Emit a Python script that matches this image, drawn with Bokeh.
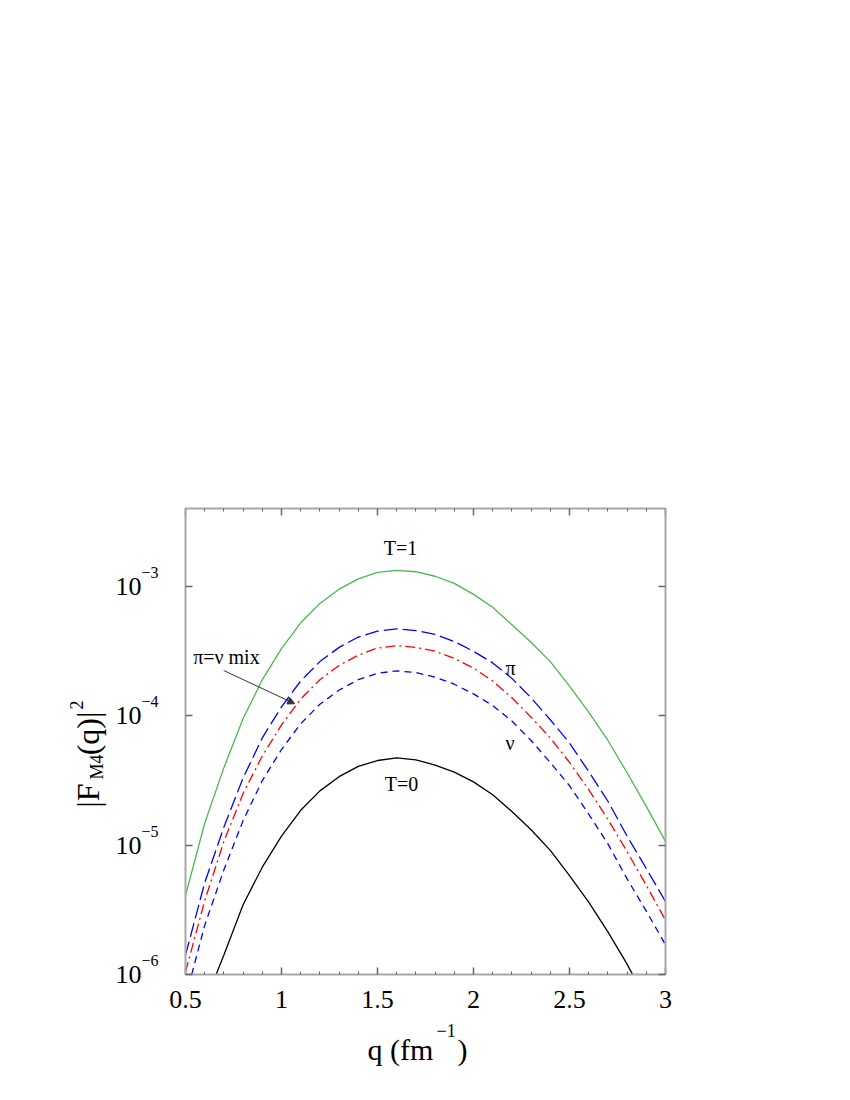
import math
from bokeh.plotting import figure
from bokeh.models import (LinearAxis, LogAxis, SingleIntervalTicker, FixedTicker,
                          CustomJSTickFormatter, Label, Arrow, NormalHead, ColumnDataSource)
from bokeh.core.properties import value
from bokeh.embed import file_html
from bokeh.resources import INLINE

# ---------------- data ----------------
q = [0.5, 0.6, 0.7, 0.8, 0.9, 1.0, 1.1, 1.2, 1.3, 1.4, 1.5, 1.6, 1.7,
     1.8, 1.9, 2.0, 2.1, 2.2, 2.3, 2.4, 2.5, 2.6, 2.7, 2.8, 2.9, 3.0]

# log10 of |F_M4(q)|^2
log_T1 = [-5.39, -4.83, -4.40, -4.02, -3.72, -3.48, -3.28, -3.13, -3.02, -2.94,
          -2.89, -2.875, -2.885, -2.92, -2.975, -3.06, -3.16, -3.295, -3.43, -3.58,
          -3.77, -3.97, -4.19, -4.44, -4.70, -4.97]
log_pi = [-5.85, -5.29, -4.86, -4.48, -4.17, -3.93, -3.73, -3.58, -3.47, -3.39,
          -3.345, -3.327, -3.34, -3.37, -3.425, -3.50, -3.59, -3.71, -3.86, -4.03,
          -4.21, -4.43, -4.66, -4.93, -5.18, -5.436]
log_mix = [-5.98, -5.43, -4.97, -4.60, -4.31, -4.07, -3.87, -3.72, -3.61, -3.53,
           -3.475, -3.457, -3.47, -3.50, -3.555, -3.63, -3.73, -3.86, -4.01, -4.17,
           -4.36, -4.57, -4.80, -5.05, -5.31, -5.58]
log_nu = [-6.18, -5.62, -5.19, -4.81, -4.50, -4.26, -4.06, -3.91, -3.80, -3.72,
          -3.67, -3.652, -3.665, -3.70, -3.755, -3.83, -3.92, -4.04, -4.19, -4.36,
          -4.54, -4.76, -4.99, -5.26, -5.51, -5.77]
log_T0 = [-6.85, -6.22, -5.85, -5.46, -5.17, -4.93, -4.73, -4.58, -4.47, -4.39,
          -4.345, -4.325, -4.34, -4.38, -4.435, -4.51, -4.61, -4.74, -4.88, -5.04,
          -5.235, -5.44, -5.67, -5.92, -6.2, -6.5]

y_decades = [-6, -5, -4, -3]

ann_text = ["T=1", "T=0", "\u03c0", "\u03bd", "\u03c0=\u03bd mix"]
ann_x = [1.62, 1.625, 2.193, 2.19, 0.713]
ann_logy = [-2.705, -4.523, -3.626, -4.206, -3.548]

arrow_x = [0.699, 1.069]
arrow_logy = [-3.649, -3.906]

# y-axis title pieces: text, font size, centre height (log10 of data y)
ytitle_text = ["|F", "M4", "(q)|", "2"]
ytitle_size = ["32px", "18px", "32px", "18px"]
ytitle_logy = [-4.616, -4.395, -4.136, -3.916]

x_range = (0.5, 3.0)
y_range_log = (-6.0, -2.396)

FONT = "Liberation Serif"

# ---------------- figure ----------------
p = figure(x_range=x_range, y_range=(10 ** y_range_log[0], 10 ** y_range_log[1]),
           y_axis_type="log", frame_width=480, frame_height=466,
           min_border_left=185, min_border_top=508, min_border_right=30,
           min_border_bottom=100, output_backend="svg", toolbar_location=None)
p.outline_line_color = None
p.grid.visible = False
p.background_fill_color = "white"
p.border_fill_color = "white"

def y(vals):
    return [10 ** v for v in vals]

p.line(q, y(log_T1), line_color="#4cb84c", line_width=1.3)
p.line(q, y(log_pi), line_color="#0000ff", line_width=1.3, line_dash="14 5")
p.line(q, y(log_mix), line_color="#ff0000", line_width=1.3, line_dash="10 4 2 4")
p.line(q, y(log_nu), line_color="#0000ff", line_width=1.3, line_dash="7 5")
p.line(q, y(log_T0), line_color="#000000", line_width=1.3)

# ---------------- axes ----------------
blank = CustomJSTickFormatter(code="return '';")

def style_axis(ax, minor=True):
    ax.axis_line_color = "#a8a8a8"
    ax.axis_line_width = 2
    ax.major_tick_line_color = "#666666"
    ax.major_tick_line_width = 1.5
    ax.major_tick_in = 7
    ax.major_tick_out = 0
    if minor:
        ax.minor_tick_line_color = "#666666"
        ax.minor_tick_line_width = 1
        ax.minor_tick_in = 3
        ax.minor_tick_out = 0
    else:
        ax.minor_tick_line_color = None

p.xaxis.ticker = SingleIntervalTicker(interval=0.5, num_minor_ticks=5)
p.xaxis.formatter = CustomJSTickFormatter(code="return String(Math.round(tick*10)/10);")
style_axis(p.xaxis[0])
p.xaxis.major_label_text_font = FONT
p.xaxis.major_label_text_font_size = "26px"
p.xaxis.major_label_text_color = "black"
p.xaxis.major_label_standoff = 16

p.yaxis.ticker = FixedTicker(ticks=[10 ** d for d in y_decades], minor_ticks=[])
p.yaxis.formatter = CustomJSTickFormatter(code="return '10';")
style_axis(p.yaxis[0], minor=False)
p.yaxis.major_label_text_font = FONT
p.yaxis.major_label_text_font_size = "26px"
p.yaxis.major_label_text_color = "black"
p.yaxis.major_label_standoff = 44

top = LinearAxis(ticker=SingleIntervalTicker(interval=0.5, num_minor_ticks=5),
                 formatter=blank)
style_axis(top)
p.add_layout(top, "above")

right = LogAxis(ticker=FixedTicker(ticks=[10 ** d for d in y_decades], minor_ticks=[]),
                formatter=blank)
style_axis(right, minor=False)
p.add_layout(right, "right")

# superscript exponents of the y tick labels (side panel, so not clipped)
for d in y_decades:
    p.add_layout(Label(x=x_range[0], y=10 ** d, x_offset=-44, y_offset=14,
                       text="\u2212" + str(abs(d)),
                       text_align="left", text_baseline="middle",
                       text_font=FONT, text_font_size="16px", text_color="black"), "left")

# y axis title |F_M4(q)|^2 (rotated pieces, each centred on its own position)
ytitle_xoff = [-98, -89, -98, -109]
for txt, size, ly, xo in zip(ytitle_text, ytitle_size, ytitle_logy, ytitle_xoff):
    p.add_layout(Label(x=x_range[0], y=10 ** ly, x_offset=xo, text=txt,
                       angle=math.pi / 2, text_align="center", text_baseline="middle",
                       text_font=FONT, text_font_size=size, text_color="black"), "above")

# x axis title q (fm^-1)
xc = 1.75
for txt, size, xo, yo in [("q (fm", "30px", -58, -75), ("\u22121", "18px", 11, -56),
                          (")", "30px", 32, -75)]:
    p.add_layout(Label(x=xc, y=10 ** y_range_log[0], x_offset=xo, y_offset=yo, text=txt,
                       text_align="left", text_baseline="alphabetic",
                       text_font=FONT, text_font_size=size, text_color="black"), "above")

# in-plot annotations
src = ColumnDataSource(dict(x=ann_x, y=y(ann_logy), t=ann_text))
p.text(x="x", y="y", text="t", source=src, text_align="center", text_baseline="middle",
       text_font=value(FONT), text_font_size="20px", text_color="black")

p.add_layout(Arrow(end=NormalHead(size=7, fill_color="#333333", line_color="#333333"),
                   x_start=arrow_x[0], y_start=10 ** arrow_logy[0],
                   x_end=arrow_x[1], y_end=10 ** arrow_logy[1],
                   line_color="#333333", line_width=1))

open("out.html", "w").write(file_html(p, INLINE))
